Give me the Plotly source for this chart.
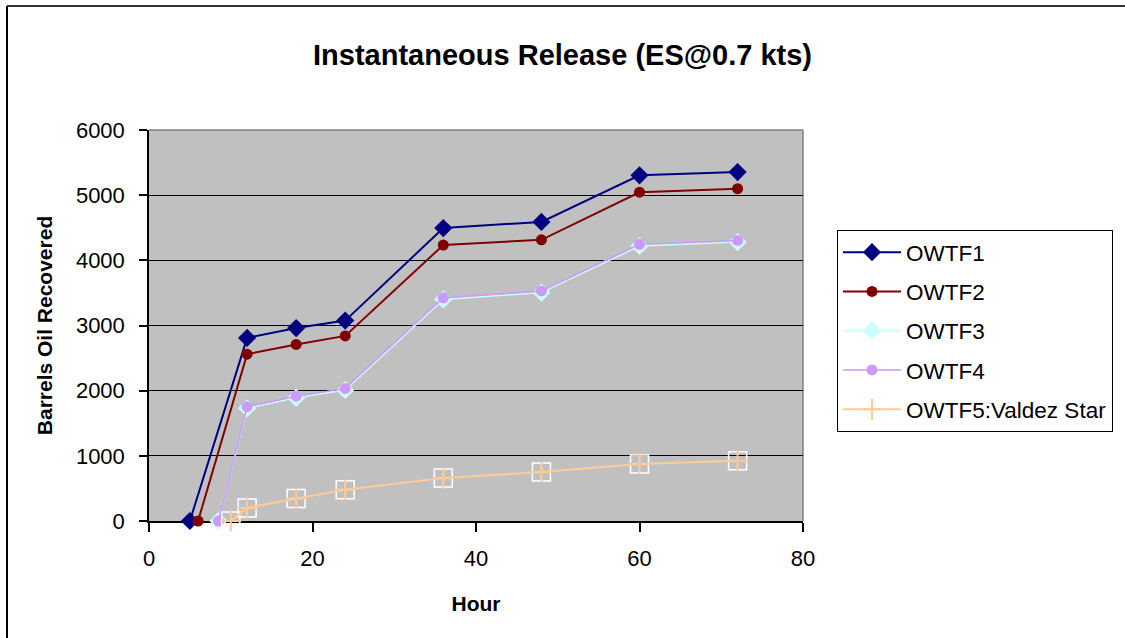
import plotly.graph_objects as go

# ---- data ----
hours_f1 = [5, 12, 18, 24, 36, 48, 60, 72]
hours_f2 = [6, 12, 18, 24, 36, 48, 60, 72]
hours_f3 = [8.5, 12, 18, 24, 36, 48, 60, 72]
hours_f4 = [8.5, 12, 18, 24, 36, 48, 60, 72]
hours_f5 = [10, 12, 18, 24, 36, 48, 60, 72]

owtf1 = [0, 2810, 2960, 3075, 4495, 4590, 5305, 5355]
owtf2 = [0, 2560, 2710, 2840, 4235, 4315, 5045, 5100]
owtf3 = [0, 1730, 1890, 2010, 3400, 3505, 4220, 4280]
owtf4 = [0, 1755, 1915, 2035, 3425, 3530, 4245, 4305]
owtf5 = [0, 200, 345, 478, 660, 752, 875, 925]

names = ["OWTF1", "OWTF2", "OWTF3", "OWTF4", "OWTF5:Valdez Star"]
x_ticks = [0, 20, 40, 60, 80]
y_ticks = [0, 1000, 2000, 3000, 4000, 5000, 6000]

FONT = "Liberation Sans, Arial, sans-serif"

fig = go.Figure()

fig.add_trace(go.Scatter(
    x=hours_f1, y=owtf1, name=names[0], mode="lines+markers", legendgroup="g1",
    cliponaxis=False,
    line=dict(color="#000080", width=2),
    marker=dict(symbol="diamond", size=14, color="#000080", line=dict(width=0))))
fig.add_trace(go.Scatter(
    x=hours_f2, y=owtf2, name=names[1], mode="lines+markers", legendgroup="g2",
    cliponaxis=False,
    line=dict(color="#800000", width=2),
    marker=dict(symbol="circle", size=11, color="#800000", line=dict(width=0))))
fig.add_trace(go.Scatter(
    x=hours_f3, y=owtf3, name=names[2], mode="lines+markers", legendgroup="g3",
    cliponaxis=False,
    line=dict(color="#CCFFFF", width=1.5),
    marker=dict(symbol="diamond", size=14, color="#CCFFFF", line=dict(width=0))))
fig.add_trace(go.Scatter(
    x=hours_f4, y=owtf4, name=names[3], mode="lines+markers", legendgroup="g4",
    cliponaxis=False,
    line=dict(color="#CC99FF", width=1.5),
    marker=dict(symbol="circle", size=11, color="#CC99FF", line=dict(width=0))))
# white square frames around the OWTF5 points
fig.add_trace(go.Scatter(
    x=hours_f5, y=owtf5, mode="markers", showlegend=False, hoverinfo="skip",
    cliponaxis=False,
    marker=dict(symbol="square-open", size=18, color="white", line=dict(width=1.5, color="white"))))
fig.add_trace(go.Scatter(
    x=hours_f5, y=owtf5, name=names[4], mode="lines+markers", legendgroup="g5",
    cliponaxis=False,
    line=dict(color="#FFCC99", width=2),
    marker=dict(symbol="cross-thin", size=15, color="#FFCC99",
                line=dict(width=2, color="#FFCC99"))))

# plot-area geometry in pixels
L, R, T, B = 149, 803, 130, 521
W, H = 1125, 638
pw, ph = R - L, B - T

def px_x(px):
    return (px - L) / pw

def px_y(py):
    return (B - py) / ph

shapes = [
    # gray plot border (top and right)
    dict(type="line", xref="paper", yref="paper", x0=0, x1=1, y0=1, y1=1,
         line=dict(color="#808080", width=1.5), layer="below"),
    dict(type="line", xref="paper", yref="paper", x0=1, x1=1, y0=0, y1=1,
         line=dict(color="#808080", width=1.5), layer="below"),
    # outer chart frame (left and top)
    dict(type="line", xref="paper", yref="paper", x0=px_x(7), x1=px_x(7),
         y0=px_y(6), y1=px_y(640), line=dict(color="#000000", width=2)),
    dict(type="line", xref="paper", yref="paper", x0=px_x(7), x1=px_x(1126),
         y0=px_y(6), y1=px_y(6), line=dict(color="#333333", width=2)),
]

fig.update_layout(
    width=W, height=H,
    margin=dict(l=L, r=W - R, t=T, b=H - B, pad=0, autoexpand=False),
    paper_bgcolor="white",
    plot_bgcolor="#C0C0C0",
    font=dict(family=FONT, color="black", size=20),
    title=dict(text="<b>Instantaneous Release (ES@0.7 kts)</b>",
               x=562.5 / W, xanchor="center",
               y=1 - 55 / H, yanchor="middle",
               font=dict(family=FONT, size=29, color="black")),
    showlegend=True,
    legend=dict(x=px_x(837), y=px_y(230), xanchor="left", yanchor="top",
                bordercolor="black", borderwidth=1, bgcolor="white",
                font=dict(family=FONT, size=22.5, color="black"),
                tracegroupgap=7, itemwidth=58),
    shapes=shapes,
)

fig.update_xaxes(
    range=[0, 80], tickvals=x_ticks, ticktext=[str(v) for v in x_ticks],
    showgrid=False, zeroline=False,
    showline=True, linecolor="black", linewidth=1.5, layer="below traces",
    ticks="outside", ticklen=9, tickcolor="black", tickwidth=1.5,
    ticklabelstandoff=8,
    tickfont=dict(family=FONT, size=22),
    title=dict(text="<b>Hour</b>", font=dict(family=FONT, size=21), standoff=26),
)
fig.update_yaxes(
    range=[0, 6000], tickvals=y_ticks, ticktext=[str(v) for v in y_ticks],
    showgrid=True, gridcolor="black", gridwidth=1, zeroline=False,
    showline=True, linecolor="black", linewidth=1.5, layer="below traces",
    ticks="outside", ticklen=8, tickcolor="black", tickwidth=1.5,
    ticklabelstandoff=10,
    tickfont=dict(family=FONT, size=22),
    title=dict(text="<b>Barrels Oil Recovered</b>", font=dict(family=FONT, size=21), standoff=18),
)

fig.write_html("out.html")
